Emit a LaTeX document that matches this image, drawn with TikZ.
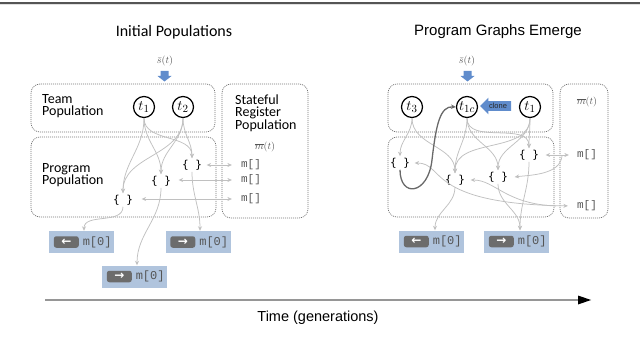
\documentclass[tikz,border=0pt]{standalone}
\usepackage{fontspec}
\setmainfont{Carlito}
\newfontfamily\arialf{Liberation Sans}
\newfontfamily\bracef{DejaVu Sans Mono}
\newfontfamily\monof{Liberation Mono}
\newfontfamily\dejavu{DejaVu Sans}
\usetikzlibrary{arrows.meta,shapes.arrows}
\definecolor{edgegray}{RGB}{192,192,192}
\definecolor{boxdot}{RGB}{115,115,115}
\definecolor{actblue}{RGB}{176,196,221}
\definecolor{actdark}{RGB}{108,108,108}
\definecolor{sigblue}{RGB}{96,140,204}
\definecolor{txtgray}{RGB}{85,85,85}
\definecolor{thickgray}{RGB}{105,105,105}
\newcommand\actbox[4]{%
  \node[actbox] (#1) at (#2,#3) {};
  \node[actkey] (#1k) at ([xshift=17.5pt]#1.west) {#4};
  \node[acttxt] (#1m) at ([xshift=-17pt]#1.east) {m[0]};
}
\begin{document}
\begin{tikzpicture}[x=1pt,y=-1pt,
  popbox/.style={draw=boxdot, dash pattern=on 1pt off 1pt, rounded corners=9pt, line width=0.7pt, inner sep=0pt},
  tnode/.style={circle, draw, line width=1.2pt, minimum size=21pt, inner sep=0pt, font=\fontsize{15}{15}\selectfont},
  prog/.style={font=\bracef\fontsize{11}{11}\selectfont, inner sep=1.5pt},
  mreg/.style={font=\monof\fontsize{11}{11}\selectfont, text=txtgray, inner sep=1pt},
  link/.style={draw=edgegray, line width=0.75pt, -{Stealth[length=4.5pt,width=4pt]}},
  bilink/.style={draw=edgegray, line width=0.75pt, {Stealth[length=4.5pt,width=4pt]}-{Stealth[length=4.5pt,width=4pt]}},
  actbox/.style={fill=actblue, minimum width=65pt, minimum height=22pt, inner sep=0pt},
  actkey/.style={fill=actdark, rounded corners=2.5pt, minimum width=25pt, minimum height=11.5pt, inner sep=0pt, text=white, font=\dejavu\bfseries\fontsize{12}{12}\selectfont},
  acttxt/.style={font=\monof\fontsize{12}{12}\selectfont, text=txtgray, inner sep=0pt},
  lbl/.style={align=left, anchor=west, font=\fontsize{14}{12.5}\selectfont, inner sep=0pt},
  sig/.style={font=\fontsize{10}{10}\selectfont, text=txtgray, inner sep=1pt},
  downarr/.style={fill=sigblue}
]
\useasboundingbox (0,0) rectangle (640,350);
% top border
\draw[line width=2pt, draw={rgb,255:red,85;green,85;blue,85}] (0,2.7) -- (640,2.7);
\draw[line width=0.6pt, draw={rgb,255:red,225;green,225;blue,225}] (0,4.8) -- (640,4.8);

% ---------- Left panel ----------
\node[font=\fontsize{16}{16}\selectfont] (titleL) at (174,32) {Initial Populations};
\node[sig] (sL) at (165,61) {$\bar{s}(t)$};
\fill[downarr] (160.5,71) -- (168.5,71) -- (168.5,76) -- (171.5,76) -- (164.5,81.5) -- (157.5,76) -- (160.5,76) -- cycle;

\node[popbox, minimum width=184pt, minimum height=48pt] (teamL) at (123,108) {};
\node[popbox, minimum width=185pt, minimum height=80pt] (progL) at (123.5,177) {};
\node[popbox, minimum width=86pt, minimum height=134pt] (regL) at (265,151) {};

\node[lbl] (teamLbl) at (42,106) {Team\\Population};
\node[lbl] (progLbl) at (42,175) {Program\\Population};
\node[lbl] (regLbl) at (235,113) {Stateful\\Register\\Population};
\node[sig] (mL) at (265,147) {$\overline{m}(t)$};

\node[tnode] (t1) at (144,107) {$t_1$};
\node[tnode] (t2) at (183,107) {$t_2$};

\node[prog] (A) at (192,165) {\{ \}};
\node[prog] (B) at (161,181) {\{ \}};
\node[prog] (C) at (123,200) {\{ \}};

\node[mreg] (m1) at (251,165) {m[]};
\node[mreg] (m2) at (251,180) {m[]};
\node[mreg] (m3) at (251,199) {m[]};

\draw[link] (t1.south) to[out=-90,in=90] (A.north);
\draw[link] (t1.south) to[out=-90,in=90] (B.north);
\draw[link] (t1.south) to[out=-90,in=90] (C.north);
\draw[link] (t2.south) to[out=-90,in=90] (A.north);
\draw[link] (t2.south) to[out=-90,in=90] (B.north);
\draw[link] (t2.south) to[out=-90,in=90] (C.north);

\draw[bilink, shorten <=3pt, shorten >=8pt] (A.east) -- (m1.west);
\draw[bilink, shorten <=6pt, shorten >=8pt] (B.east |- m2.west) -- (m2.west);
\draw[bilink, shorten <=7pt, shorten >=8pt] (C.east |- m3.west) -- (m3.west);

\actbox{L1}{81.5}{242}{←}
\actbox{L2}{198}{242}{→}
\actbox{L3}{134.5}{276.5}{→}

\draw[link] (C.south) to[out=-90,in=90] ([xshift=2.5pt]L1.north);
\draw[link] (A.south) to[out=-90,in=90] ([xshift=2pt]L2.north);
\draw[link] (B.south) to[out=-90,in=90] ([xshift=2.5pt]L3.north);

% ---------- Right panel ----------
\node[font=\arialf\fontsize{15}{15}\selectfont] (titleR) at (498,32) {Program Graphs Emerge};
\node[sig] (sR) at (467,61) {$\bar{s}(t)$};
\fill[downarr] (463.5,71) -- (471.5,71) -- (471.5,76) -- (474.5,76) -- (467.5,81.5) -- (460.5,76) -- (463.5,76) -- cycle;

\node[popbox, minimum width=165pt, minimum height=48pt] (teamR) at (470.5,108) {};
\node[popbox, minimum width=166pt, minimum height=80pt] (progR) at (471,177) {};
\node[popbox, minimum width=48pt, minimum height=134pt] (regR) at (584,151) {};
\node[sig] (mR) at (587,102) {$\overline{m}(t)$};

\node[tnode] (t3) at (412,107) {$t_3$};
\node[tnode] (t1c) at (467,107) {$t_{1c}$};
\node[tnode] (t1r) at (530,107) {$t_1$};
\node[single arrow, shape border rotate=180, fill=sigblue, minimum height=31pt, single arrow head extend=3.5pt, inner xsep=1pt, inner ysep=2pt, font=\arialf\fontsize{7.5}{7.5}\selectfont, text={rgb,255:red,40;green,40;blue,40}] (clone) at (498,106) {clone};

\node[prog] (D) at (400,163) {\{ \}};
\node[prog] (E) at (455,180) {\{ \}};
\node[prog] (F) at (498,177) {\{ \}};
\node[prog] (G) at (529,155) {\{ \}};

\node[mreg] (m1r) at (587,155) {m[]};
\node[mreg] (m2r) at (587,206) {m[]};

\draw[link] (t3.south) to[out=-90,in=90] (D.north);
\draw[link] (t3.south) to[out=-90,in=90] (E.north);
\draw[link] (t1c.south) to[out=-90,in=90] (E.north);
\draw[link] (t1c.south) to[out=-90,in=90] (F.north);
\draw[link] (t1c.south) to[out=-90,in=90] (G.north);
\draw[link] (t1r.south) to[out=-90,in=90] (E.north);
\draw[link] (t1r.south) to[out=-90,in=90] (F.north);
\draw[link] (t1r.south) to[out=-90,in=90] (G.north);

\draw[bilink, shorten <=5pt, shorten >=7pt] (G.east) -- (m1r.west);
\coordinate (branch) at (562,156);
\draw[link] (branch) .. controls (560,175) and (530,175) .. ([xshift=5pt]F.east);
\draw[bilink, shorten <=3pt, shorten >=8pt] (D.east) .. controls (445,163) and (425,204) .. (m2r.west);
\draw[link, shorten >=4pt] ([xshift=-20pt]m2r.west) .. controls (505,204) and (495,180) .. (E.east);

\draw[thickgray, line width=1.3pt, -{Stealth[length=5pt,width=4.5pt]}] (D.south) .. controls (400,198) and (428,195) .. (432,160) .. controls (436,125) and (440,106) .. (t1c.west);

\actbox{Lb}{431.5}{241.5}{←}
\actbox{Rb}{516.5}{241.5}{→}

\draw[link] (E.south) to[out=-90,in=90] ([xshift=3.5pt]Lb.north);
\draw[link] (F.south) to[out=-90,in=90] ([xshift=3.5pt]Rb.north);
\draw[link] (G.south) to[out=-90,in=90] ([xshift=3.5pt]Rb.north);

% ---------- Timeline ----------
\coordinate (tl0) at (45,300);
\coordinate (tl1) at (591,300);
\draw[line width=1.1pt, draw={rgb,255:red,150;green,150;blue,150}] (tl0) -- ([xshift=-10pt]tl1);
\draw[line width=0pt, fill=black, -{Triangle[length=13pt,width=9pt]}] ([xshift=-12pt]tl1) -- (tl1);
\node[font=\arialf\fontsize{14.5}{14.5}\selectfont] (timeLbl) at (318,318) {Time (generations)};
\end{tikzpicture}
\end{document}
